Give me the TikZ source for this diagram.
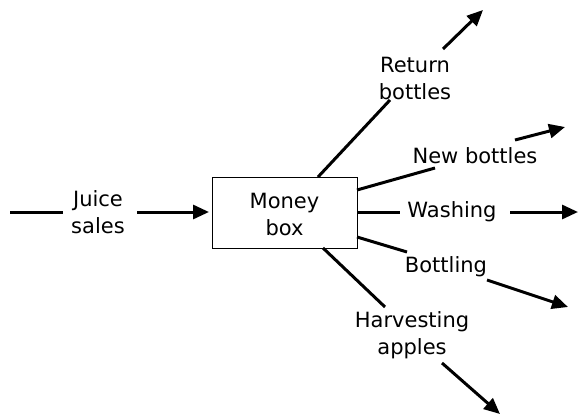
\documentclass[tikz,border=0pt]{standalone}
\usepackage{fontspec}
\setmainfont{DejaVu Sans}
\usetikzlibrary{arrows.meta}
\begin{document}
\begin{tikzpicture}[x=1pt,y=-1pt,
  lbl/.style={font=\fontsize{21}{27}\selectfont, align=center, inner sep=0pt},
  flow/.style={line width=3pt},
  flowarrow/.style={line width=3pt, -{Triangle[length=16pt,width=14pt]}},
  boxstyle/.style={draw, line width=1pt, minimum width=145pt, minimum height=71pt, inner sep=0pt}]
\useasboundingbox (0,0) rectangle (578,417);
\node[boxstyle] (box) at (284.5,212.5) {};
\node[lbl] (money) at (284.5,214) {Money\\box};
\node[lbl] (juice) at (98,212) {Juice\\sales};
\node[lbl] (ret) at (415,78) {Return\\bottles};
\node[lbl] (newb) at (475,156) {New bottles};
\node[lbl] (wash) at (452,212) {Washing};
\node[lbl] (bott) at (446,267) {Bottling};
\node[lbl] (harv) at (412,335) {Harvesting\\apples};
% juice
\coordinate (j0) at (10,212);
\coordinate (j1) at (63,212);
\coordinate (j2) at (137,212);
\coordinate (j3) at (209,212);
\draw[flow] (j0) -- (j1);
\draw[flowarrow] (j2) -- (j3);
% return bottles
\coordinate (r0) at (318,177);
\coordinate (r1) at (390,100);
\coordinate (r2) at (443,49);
\coordinate (r3) at (483,10);
\draw[flow] (r0) -- (r1);
\draw[flowarrow] (r2) -- (r3);
% new bottles
\coordinate (n0) at (357,190);
\coordinate (n1) at (435,168);
\coordinate (n2) at (515,140);
\coordinate (n3) at (565,127);
\draw[flow] (n0) -- (n1);
\draw[flowarrow] (n2) -- (n3);
% washing
\coordinate (w0) at (357,212);
\coordinate (w1) at (400,212);
\coordinate (w2) at (510,212);
\coordinate (w3) at (578,212);
\draw[flow] (w0) -- (w1);
\draw[flowarrow] (w2) -- (w3);
% bottling
\coordinate (b0) at (357,237);
\coordinate (b1) at (407,252);
\coordinate (b2) at (487,280);
\coordinate (b3) at (568,307);
\draw[flow] (b0) -- (b1);
\draw[flowarrow] (b2) -- (b3);
% harvesting
\coordinate (h0) at (323,248);
\coordinate (h1) at (385,307);
\coordinate (h2) at (442,363);
\coordinate (h3) at (500,414);
\draw[flow] (h0) -- (h1);
\draw[flowarrow] (h2) -- (h3);
\end{tikzpicture}
\end{document}
